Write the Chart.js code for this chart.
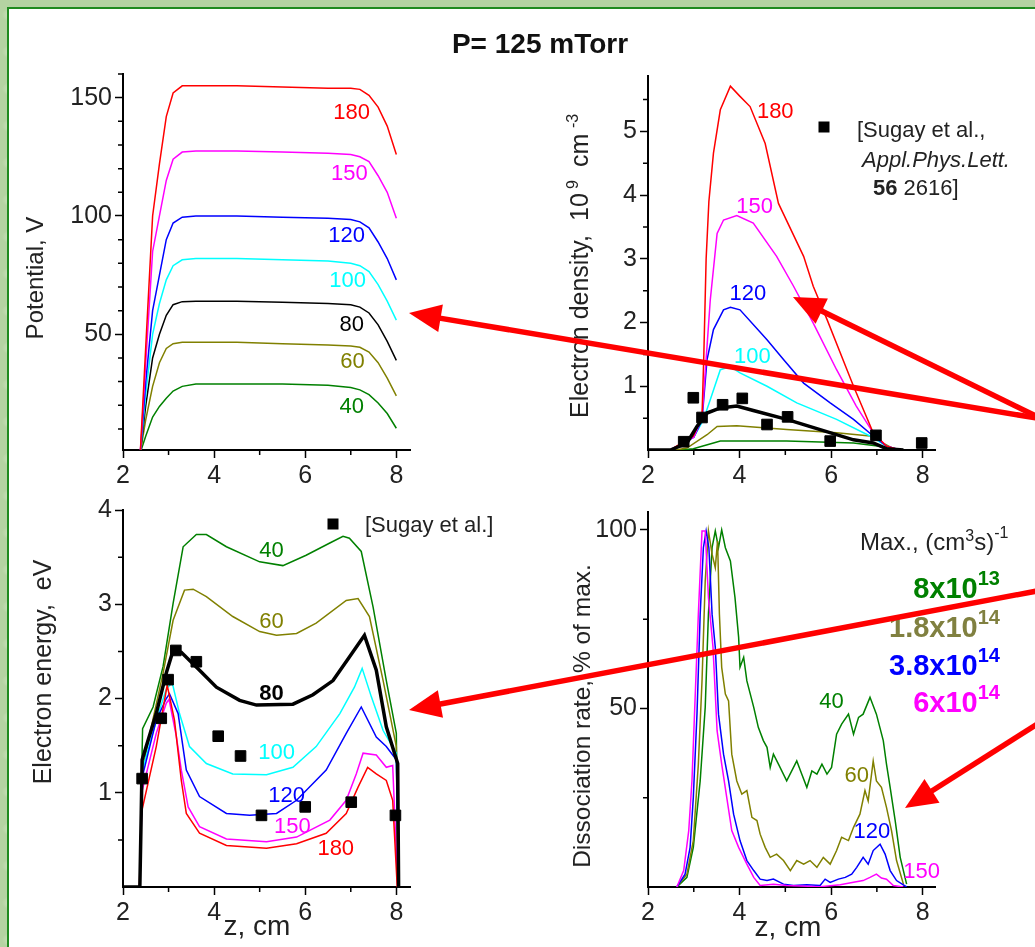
<!DOCTYPE html>
<html>
<head>
<meta charset="utf-8">
<title>P= 125 mTorr</title>
<script src="https://cdn.jsdelivr.net/npm/chart.js@4.4.1/dist/chart.umd.min.js"></script>
<style>
  html, body { margin: 0; padding: 0; }
  body {
    width: 1035px; height: 947px; overflow: hidden; position: relative;
    background-color: #b4d3a2;
    background-image:
      radial-gradient(ellipse at 30% 40%, rgba(235,245,225,0.45) 0 6px, transparent 14px),
      radial-gradient(ellipse at 70% 60%, rgba(120,170,100,0.3) 0 8px, transparent 18px);
    background-size: 53px 37px, 71px 47px;
  }
  #frame {
    position: absolute; left: 7px; top: 7px; width: 1100px; height: 1000px;
    background: #fff; border: 2.5px solid #1f8a1f;
  }
  canvas { position: absolute; }
  #notes { position: absolute; left: 0; top: 0; }
</style>
</head>
<body>
<div id="frame"></div>
<canvas id="potential"></canvas>
<canvas id="density"></canvas>
<canvas id="energy"></canvas>
<canvas id="dissociation"></canvas>

<svg id="notes" width="1035" height="947" font-family="Liberation Sans, Arial, sans-serif">
  <text x="540" y="53" text-anchor="middle" font-size="28" font-weight="bold" fill="#111">P= 125 mTorr</text>

  <text transform="translate(43,278) rotate(-90)" text-anchor="middle" font-size="24" fill="#222">Potential, V</text>
  <text transform="translate(588,418) rotate(-90)" font-size="25" fill="#222"><tspan x="0">Electron density,</tspan><tspan x="197">10</tspan><tspan x="229" dy="-10" font-size="16">9</tspan><tspan x="251" dy="10">cm</tspan><tspan x="290" dy="-10" font-size="16">-3</tspan></text>
  <text transform="translate(51,672) rotate(-90)" text-anchor="middle" font-size="25" fill="#222">Electron energy,&#160; eV</text>
  <text transform="translate(590,716) rotate(-90)" text-anchor="middle" font-size="24.5" fill="#222">Dissociation rate, % of max.</text>
  <text x="257" y="935" text-anchor="middle" font-size="28" fill="#222">z, cm</text>
  <text x="788" y="936" text-anchor="middle" font-size="28" fill="#222">z, cm</text>

  <rect x="818.5" y="121.5" width="11" height="11" fill="#000"/>
  <text x="857" y="137" font-size="22" fill="#222">[Sugay et al.,</text>
  <text x="862" y="167" font-size="22" font-style="italic" fill="#222">Appl.Phys.Lett.</text>
  <text x="873" y="195" font-size="22" fill="#222"><tspan font-weight="bold">56</tspan> 2616]</text>

  <rect x="327.5" y="518.5" width="11" height="11" fill="#000"/>
  <text x="365" y="532" font-size="22" fill="#222">[Sugay et al.]</text>

  <text x="860" y="550" font-size="24" fill="#222">Max.,&#160;(cm<tspan dy="-9" font-size="16">3</tspan><tspan dy="9">s)</tspan><tspan dy="-12" font-size="16">-1</tspan></text>
  <text x="1000" y="598" text-anchor="end" font-size="29" font-weight="bold" fill="#008000">8x10<tspan dy="-13" font-size="20">13</tspan></text>
  <text x="1000" y="637" text-anchor="end" font-size="29" font-weight="bold" fill="#808040">1.8x10<tspan dy="-13" font-size="20">14</tspan></text>
  <text x="1000" y="675" text-anchor="end" font-size="29" font-weight="bold" fill="#0000ff">3.8x10<tspan dy="-13" font-size="20">14</tspan></text>
  <text x="1000" y="712" text-anchor="end" font-size="29" font-weight="bold" fill="#ff00ff">6x10<tspan dy="-13" font-size="20">14</tspan></text>
  <g id="arrows"></g>
</svg>

<script>
// ---- shared axis ticks ----
const zTicks = [2, 4, 6, 8];
const zMinor = [3, 5, 7];

// ---- potential, V ----
const potZ   = [2.38, 2.5, 2.65, 2.8, 2.95, 3.1, 3.3, 3.6, 4.5, 5.5, 6.5, 7.0, 7.2, 7.4, 7.6, 7.8, 8.0];
const pot180 = [0, 45, 100, 122, 142, 152, 155, 155, 155, 154.5, 154, 154, 153.5, 151, 146, 138, 126];
const pot150 = [0, 38, 85, 100, 115, 124, 127, 127.5, 127.5, 127, 126.5, 126, 125, 123, 117, 110, 99];
const pot120 = [0, 30, 60, 75, 90, 97, 99.5, 100, 100, 99.5, 99, 98.5, 97.5, 95, 89, 82, 73];
const pot100 = [0, 25, 50, 63, 73, 79, 81.5, 82, 82, 81.5, 81, 80, 79, 76.5, 71, 64, 56];
const pot80  = [0, 20, 40, 50, 58, 62.5, 63.8, 64, 64, 63.5, 63, 62.5, 61.5, 59, 54, 47, 39];
const pot60  = [0, 14, 28, 38, 44, 46, 46.6, 46.6, 46.6, 46, 45.5, 45, 44.5, 42.5, 38, 31.5, 24];
const pot40  = [0, 7, 15, 19.5, 23, 26, 28, 29, 29, 29, 28.5, 27.5, 26.5, 24.5, 21, 16.5, 10.3];
const potTicks = [50, 100, 150];
const potMinor = [10, 20, 30, 40, 60, 70, 80, 90, 110, 120, 130, 140, 160];

// ---- electron density, 1e9 cm^-3 ----
const den180z = [2.49, 2.99, 3.18, 3.22, 3.27, 3.33, 3.43, 3.58, 3.80, 4.01, 4.23, 4.56, 4.85, 5.40, 5.61, 5.91, 6.49, 6.92, 7.21, 7.51];
const den180  = [0, 0.22, 0.53, 1.5, 3.0, 3.9, 4.66, 5.34, 5.71, 5.55, 5.39, 4.81, 3.87, 3.04, 2.57, 2.05, 1.0, 0.27, 0.06, 0];
const den150z = [2.49, 3.0, 3.18, 3.36, 3.51, 3.65, 3.94, 4.30, 4.81, 5.18, 5.61, 6.12, 6.55, 6.92, 7.21, 7.51];
const den150  = [0, 0.2, 0.5, 2.35, 3.40, 3.61, 3.68, 3.56, 3.04, 2.57, 1.99, 1.26, 0.69, 0.27, 0.06, 0];
const den120z = [2.49, 3.0, 3.18, 3.29, 3.43, 3.65, 3.80, 4.01, 4.60, 4.96, 5.40, 5.98, 6.49, 6.92, 7.21, 7.51];
const den120  = [0, 0.2, 0.47, 1.42, 1.89, 2.2, 2.24, 2.2, 1.73, 1.42, 1.05, 0.74, 0.48, 0.22, 0.06, 0];
const den100z = [2.49, 3.0, 3.21, 3.36, 3.58, 3.80, 4.01, 4.60, 5.25, 6.12, 6.85, 7.21, 7.51];
const den100  = [0, 0.2, 0.47, 0.79, 1.26, 1.31, 1.21, 1.0, 0.74, 0.48, 0.22, 0.06, 0];
const den80z  = [2.0, 2.49, 2.85, 3.07, 3.29, 3.58, 3.94, 4.30, 5.03, 5.76, 6.49, 6.92, 7.21, 7.58];
const den80   = [0, 0, 0.11, 0.37, 0.58, 0.66, 0.69, 0.62, 0.48, 0.32, 0.16, 0.11, 0.02, 0];
const den60z  = [2.6, 2.85, 3.29, 3.51, 3.94, 5.03, 6.12, 6.85, 7.36];
const den60   = [0, 0.03, 0.24, 0.37, 0.38, 0.32, 0.27, 0.22, 0.02];
const den40z  = [2.7, 2.99, 3.43, 3.58, 5.03, 6.49, 7.06, 7.43];
const den40   = [0, 0.02, 0.11, 0.14, 0.14, 0.11, 0.06, 0];
const expDenZ = [2.78, 2.99, 3.18, 3.63, 4.06, 4.60, 5.05, 5.98, 6.98, 7.98];
const expDen  = [0.13, 0.82, 0.51, 0.71, 0.81, 0.40, 0.52, 0.14, 0.23, 0.11];
const denTicks = [1, 2, 3, 4, 5];
const denMinor = [0.5, 1.5, 2.5, 3.5, 4.5, 5.5];

// ---- electron energy, eV ----
const en40z  = [2.37, 2.41, 2.43, 2.66, 2.88, 3.10, 3.32, 3.61, 3.83, 4.27, 5.0, 5.51, 6.02, 6.54, 6.83, 6.97, 7.23, 7.49, 7.78, 8.0, 8.03];
const en40   = [0, 1.2, 1.68, 1.91, 2.34, 3.01, 3.61, 3.74, 3.74, 3.61, 3.45, 3.41, 3.52, 3.65, 3.72, 3.70, 3.56, 2.97, 2.19, 1.63, 0];
const en60z  = [2.37, 2.41, 2.59, 2.88, 3.10, 3.35, 3.54, 3.83, 4.41, 5.0, 5.37, 5.81, 6.24, 6.90, 7.16, 7.41, 7.71, 8.0, 8.03];
const en60   = [0, 1.2, 1.63, 2.27, 2.83, 3.15, 3.16, 3.08, 2.87, 2.71, 2.67, 2.69, 2.80, 3.04, 3.06, 2.87, 2.19, 1.49, 0];
const en80z  = [2.0, 2.37, 2.40, 2.42, 2.73, 2.95, 3.10, 3.28, 3.68, 4.05, 4.56, 4.93, 5.73, 6.17, 6.61, 6.97, 7.30, 7.56, 7.78, 8.03, 8.05];
const en80   = [0, 0, 0.78, 1.35, 1.84, 2.27, 2.51, 2.49, 2.30, 2.12, 1.98, 1.93, 1.94, 2.04, 2.19, 2.44, 2.67, 2.30, 1.70, 1.31, 0];
const en100z = [2.37, 2.42, 2.73, 2.95, 3.08, 3.24, 3.46, 3.83, 4.41, 5.15, 5.73, 6.24, 6.76, 7.08, 7.25, 7.45, 7.71, 8.0, 8.05];
const en100  = [0, 1.23, 1.77, 2.1, 2.17, 1.84, 1.49, 1.31, 1.20, 1.19, 1.27, 1.49, 1.84, 2.12, 2.32, 2.02, 1.66, 1.42, 0];
const en120z = [2.37, 2.42, 2.73, 2.95, 3.02, 3.21, 3.39, 3.68, 4.27, 4.78, 5.37, 5.81, 6.46, 6.90, 7.23, 7.56, 7.78, 8.0, 8.05];
const en120  = [0, 1.16, 1.77, 2.0, 2.05, 1.84, 1.24, 0.96, 0.78, 0.76, 0.78, 0.92, 1.24, 1.63, 1.91, 1.59, 1.49, 1.35, 0];
const en150z = [2.37, 2.42, 2.73, 2.95, 3.01, 3.17, 3.28, 3.43, 3.68, 4.27, 5.15, 5.81, 6.54, 6.90, 7.12, 7.27, 7.56, 7.78, 7.92, 8.03];
const en150  = [0, 1.02, 1.63, 1.95, 1.99, 1.6, 1.24, 0.85, 0.64, 0.51, 0.48, 0.53, 0.71, 0.92, 1.2, 1.42, 1.40, 1.27, 1.29, 0];
const en180z = [2.36, 2.40, 2.73, 2.97, 3.13, 3.28, 3.39, 3.68, 4.27, 5.15, 5.81, 6.46, 6.90, 7.16, 7.37, 7.56, 7.78, 7.92, 8.02];
const en180  = [0, 0.78, 1.49, 2.14, 1.77, 1.13, 0.78, 0.57, 0.44, 0.41, 0.46, 0.57, 0.78, 1.06, 1.27, 1.2, 1.13, 0.92, 0];
const expEnZ = [2.42, 2.84, 2.99, 3.16, 3.61, 4.09, 4.58, 5.04, 6.0, 7.01, 7.98];
const expEn  = [1.15, 1.79, 2.2, 2.51, 2.39, 1.6, 1.39, 0.76, 0.85, 0.90, 0.76];
const enTicks = [1, 2, 3, 4];
const enMinor = [0.5, 1.5, 2.5, 3.5];

// ---- dissociation rate, % of max ----
const dis40z  = [2.63, 2.85, 2.99, 3.14, 3.25, 3.32, 3.40, 3.47, 3.54, 3.61, 3.69, 3.80, 3.90, 3.98, 4.01, 4.09, 4.16, 4.31, 4.41, 4.52, 4.60, 4.67, 4.74, 4.85, 5.03, 5.14, 5.25, 5.36, 5.47, 5.58, 5.69, 5.80, 5.91, 6.01, 6.12, 6.23, 6.38, 6.49, 6.60, 6.70, 6.85, 6.99, 7.14, 7.21, 7.29, 7.40, 7.51, 7.65];
const dis40   = [0, 2.7, 11.1, 29.7, 50.3, 76.4, 95, 99.7, 95, 100, 95, 91.3, 81.1, 69.9, 61.5, 64.3, 57.7, 50.3, 44.7, 41, 39.1, 33.5, 37.2, 34.4, 29.7, 32.5, 35.3, 31.6, 27.9, 32.5, 31.6, 34.4, 31.6, 33.5, 42.8, 45.6, 48.4, 42.8, 47.5, 48.4, 53.1, 48.4, 41, 34.4, 27.9, 18.6, 8.3, 0.8];
const dis60z  = [2.63, 2.85, 2.99, 3.10, 3.18, 3.25, 3.32, 3.40, 3.47, 3.52, 3.56, 3.61, 3.69, 3.76, 3.83, 3.94, 4.05, 4.16, 4.27, 4.38, 4.45, 4.56, 4.67, 4.81, 4.96, 5.11, 5.25, 5.40, 5.54, 5.69, 5.83, 5.98, 6.12, 6.23, 6.38, 6.49, 6.63, 6.74, 6.81, 6.92, 6.99, 7.10, 7.21, 7.32, 7.43, 7.58];
const dis60   = [0, 3.6, 13, 34.4, 57.7, 85.7, 99.7, 93.2, 89.4, 96.9, 76.4, 61.5, 54, 52.1, 37.2, 29.7, 26, 27, 19.5, 18.6, 14.8, 11.1, 8.3, 9.2, 7.4, 4.6, 7.4, 6.4, 7.4, 5.5, 8.3, 6.4, 10.2, 13.9, 13, 16.7, 20.4, 27, 24.1, 35.3, 29.7, 27.9, 22.3, 15.8, 7.4, 0.8];
const dis120z = [2.63, 2.81, 2.92, 2.99, 3.07, 3.14, 3.21, 3.27, 3.33, 3.40, 3.47, 3.54, 3.65, 3.76, 3.87, 4.01, 4.16, 4.31, 4.45, 4.60, 4.74, 4.96, 5.18, 5.47, 5.76, 5.87, 5.98, 6.16, 6.31, 6.45, 6.56, 6.70, 6.81, 6.92, 7.07, 7.18, 7.29, 7.43, 7.65];
const dis120  = [0, 3.6, 11.1, 25.1, 48.4, 76.4, 95, 99.7, 95, 76.4, 67.1, 48.4, 37.2, 29.7, 20.4, 13, 7.4, 4.6, 2.2, 1.8, 2.2, 0.8, 0.4, 0.6, 0.4, 2.2, 1.3, 2.2, 2.7, 3.6, 5.5, 8.3, 6.4, 10.2, 12, 9.2, 4.6, 1.8, 0];
const dis150z = [2.63, 2.78, 2.89, 2.96, 3.03, 3.10, 3.18, 3.25, 3.32, 3.42, 3.51, 3.61, 3.72, 3.83, 3.98, 4.16, 4.31, 4.45, 4.74, 5.03, 5.76, 6.20, 6.49, 6.70, 6.85, 6.99, 7.10, 7.21, 7.36, 7.58];
const dis150  = [0, 4.6, 15.8, 29.7, 53.1, 76.4, 99.7, 99.7, 81.1, 67.1, 43.7, 34.4, 25.1, 15.8, 11.1, 6.4, 2.7, 0.4, 0.8, 0.4, 0.1, 0.6, 1.3, 1.8, 2.7, 3.6, 2.5, 2.2, 0.4, 0];
const disTicks = [50, 100];
const disMinor = [25, 75];

const RED = '#ff0000', MAG = '#ff00ff', BLUE = '#0000ff', CYAN = '#00ffff',
      BLACK = '#000000', OLIVE = '#808000', GREEN = '#008000';

Chart.defaults.font.family = '"Liberation Sans", Arial, sans-serif';
Chart.defaults.color = '#222';

const PAD_L = 70, PAD_T = 20, PAD_R = 26, PAD_B = 50;

const pts = (xs, ys) => xs.map((x, i) => ({ x: x, y: ys[i] }));

// short outward ticks between the labelled ones
const minorTicks = {
  id: 'minorTicks',
  afterDraw(chart, args, opts) {
    const { ctx, scales: { x, y } } = chart;
    ctx.save();
    ctx.strokeStyle = '#000';
    ctx.lineWidth = 1.5;
    ctx.beginPath();
    (opts.x || []).forEach(v => {
      const p = x.getPixelForValue(v);
      ctx.moveTo(p, y.bottom); ctx.lineTo(p, y.bottom + 5);
    });
    (opts.y || []).forEach(v => {
      const p = y.getPixelForValue(v);
      ctx.moveTo(x.left, p); ctx.lineTo(x.left - 5, p);
    });
    ctx.stroke();
    ctx.restore();
  }
};

// the numbers written next to each curve
const curveLabels = {
  id: 'curveLabels',
  afterDatasetsDraw(chart, args, opts) {
    const { ctx, scales: { x, y } } = chart;
    ctx.save();
    ctx.textAlign = 'center';
    ctx.textBaseline = 'middle';
    (opts.items || []).forEach(l => {
      ctx.font = (l.bold ? 'bold ' : '') + '22px "Liberation Sans", Arial, sans-serif';
      ctx.fillStyle = l.color;
      ctx.fillText(l.text, x.getPixelForValue(l.x), y.getPixelForValue(l.y));
    });
    ctx.restore();
  }
};

function curve(xs, ys, color, width) {
  return { data: pts(xs, ys), borderColor: color, backgroundColor: color,
           borderWidth: width || 1.5, pointRadius: 0, fill: false, tension: 0 };
}
function marks(xs, ys) {
  return { type: 'scatter', data: pts(xs, ys), backgroundColor: '#000', borderColor: '#000',
           borderWidth: 1, pointStyle: 'rect', pointRadius: 7.5, showLine: false };
}

function panel(id, box, xr, yr, yTicks, minor, datasets, labels) {
  const canvas = document.getElementById(id);
  canvas.width = box.r - box.l + PAD_L + PAD_R;
  canvas.height = box.b - box.t + PAD_T + PAD_B;
  canvas.style.left = (box.l - PAD_L) + 'px';
  canvas.style.top = (box.t - PAD_T) + 'px';

  const axis = (min, max, ticks, fit) => ({
    type: 'linear', min: min, max: max,
    border: { display: true, color: '#000', width: 2 },
    grid: { display: true, drawOnChartArea: false, drawTicks: true, tickLength: 8, tickWidth: 1.5, tickColor: '#000' },
    ticks: { font: { size: 25 }, color: '#222', padding: 3, autoSkip: false, maxRotation: 0 },
    afterBuildTicks: s => { s.ticks = ticks.map(v => ({ value: v })); },
    afterFit: fit
  });

  new Chart(canvas, {
    type: 'line',
    data: { datasets: datasets },
    options: {
      responsive: false,
      animation: false,
      events: [],
      layout: { padding: { left: 0, top: PAD_T, right: PAD_R, bottom: 0 } },
      plugins: {
        legend: { display: false },
        tooltip: { enabled: false },
        minorTicks: minor,
        curveLabels: { items: labels }
      },
      scales: {
        x: axis(xr[0], xr[1], zTicks, s => { s.height = PAD_B; }),
        y: axis(yr[0], yr[1], yTicks, s => { s.width = PAD_L; })
      }
    },
    plugins: [minorTicks, curveLabels]
  });
}

// first dataset in a list ends up on top
panel('potential', { l: 123, t: 74, r: 410, b: 450 }, [2, 8.3], [1.1, 160], potTicks,
  { x: zMinor, y: potMinor },
  [
    curve(potZ, pot180, RED),
    curve(potZ, pot150, MAG),
    curve(potZ, pot120, BLUE),
    curve(potZ, pot100, CYAN),
    curve(potZ, pot80, BLACK),
    curve(potZ, pot60, OLIVE),
    curve(potZ, pot40, GREEN)
  ],
  [
    { text: '180', x: 7.02, y: 143.6, color: RED },
    { text: '150', x: 6.97, y: 117.7, color: MAG },
    { text: '120', x: 6.91, y: 91.6, color: BLUE },
    { text: '100', x: 6.93, y: 72.5, color: CYAN },
    { text: '80', x: 7.02, y: 54, color: BLACK },
    { text: '60', x: 7.04, y: 38.3, color: OLIVE },
    { text: '40', x: 7.02, y: 19.3, color: GREEN }
  ]);

panel('density', { l: 648, t: 76, r: 935, b: 450 }, [2, 8.27], [0, 5.87], denTicks,
  { x: zMinor, y: denMinor },
  [
    marks(expDenZ, expDen),
    curve(den80z, den80, BLACK, 3.5),
    curve(den180z, den180, RED),
    curve(den150z, den150, MAG),
    curve(den120z, den120, BLUE),
    curve(den100z, den100, CYAN),
    curve(den60z, den60, OLIVE),
    curve(den40z, den40, GREEN)
  ],
  [
    { text: '180', x: 4.78, y: 5.31, color: RED },
    { text: '150', x: 4.33, y: 3.82, color: MAG },
    { text: '120', x: 4.18, y: 2.45, color: BLUE },
    { text: '100', x: 4.28, y: 1.46, color: CYAN }
  ]);

panel('energy', { l: 123, t: 510, r: 410, b: 887 }, [2, 8.3], [0, 4], enTicks,
  { x: zMinor, y: enMinor },
  [
    marks(expEnZ, expEn),
    curve(en80z, en80, BLACK, 3.5),
    curve(en180z, en180, RED),
    curve(en150z, en150, MAG),
    curve(en120z, en120, BLUE),
    curve(en100z, en100, CYAN),
    curve(en60z, en60, OLIVE),
    curve(en40z, en40, GREEN)
  ],
  [
    { text: '40', x: 5.26, y: 3.57, color: GREEN },
    { text: '60', x: 5.26, y: 2.81, color: OLIVE },
    { text: '80', x: 5.26, y: 2.05, color: BLACK, bold: true },
    { text: '100', x: 5.37, y: 1.42, color: CYAN },
    { text: '120', x: 5.59, y: 0.97, color: BLUE },
    { text: '150', x: 5.72, y: 0.64, color: MAG },
    { text: '180', x: 6.67, y: 0.40, color: RED }
  ]);

panel('dissociation', { l: 648, t: 512, r: 935, b: 887 }, [2, 8.27], [0, 105], disTicks,
  { x: zMinor, y: disMinor },
  [
    curve(dis150z, dis150, MAG),
    curve(dis120z, dis120, BLUE),
    curve(dis60z, dis60, OLIVE),
    curve(dis40z, dis40, GREEN)
  ],
  [
    { text: '40', x: 6.01, y: 51.7, color: GREEN },
    { text: '60', x: 6.56, y: 31.1, color: OLIVE },
    { text: '120', x: 6.89, y: 15.3, color: BLUE },
    { text: '150', x: 7.98, y: 4.1, color: MAG }
  ]);

// red pointer arrows drawn over everything
const arrows = [
  { from: [1042, 419], to: [409, 313] },
  { from: [1042, 419], to: [793, 297] },
  { from: [1042, 590], to: [409, 710] },
  { from: [1042, 721], to: [905, 808] }
];
const NS = 'http://www.w3.org/2000/svg';
const g = document.getElementById('arrows');
arrows.forEach(a => {
  const [x0, y0] = a.from, [x1, y1] = a.to;
  const len = Math.hypot(x1 - x0, y1 - y0);
  const ux = (x1 - x0) / len, uy = (y1 - y0) / len;
  const hl = 32, hw = 14;
  const bx = x1 - ux * hl, by = y1 - uy * hl;
  const line = document.createElementNS(NS, 'line');
  line.setAttribute('x1', x0); line.setAttribute('y1', y0);
  line.setAttribute('x2', bx + ux * 4); line.setAttribute('y2', by + uy * 4);
  line.setAttribute('stroke', '#ff0000'); line.setAttribute('stroke-width', 5.5);
  g.appendChild(line);
  const head = document.createElementNS(NS, 'polygon');
  head.setAttribute('points', [
    [x1, y1], [bx - uy * hw, by + ux * hw], [bx + uy * hw, by - ux * hw]
  ].map(p => p.join(',')).join(' '));
  head.setAttribute('fill', '#ff0000');
  g.appendChild(head);
});
</script>
</body>
</html>
